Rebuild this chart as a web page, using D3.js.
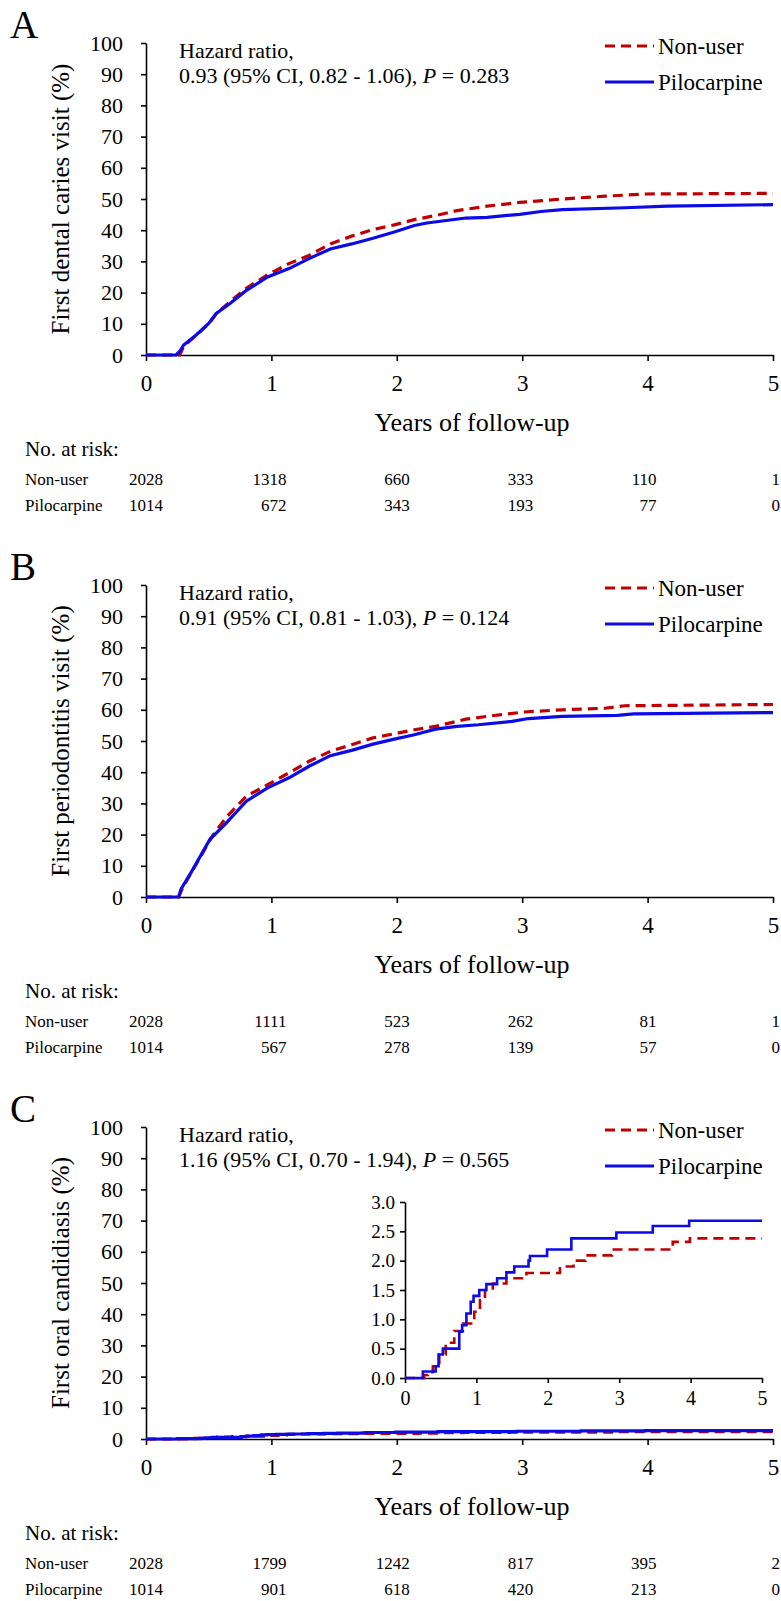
<!DOCTYPE html>
<html>
<head>
<meta charset="utf-8">
<script src="https://cdn.jsdelivr.net/npm/d3@7"></script>
<style>
  body { margin: 0; background: #fff; }
  svg, svg text { font-family: "Liberation Serif", "Tinos", "Times New Roman", "DejaVu Serif", serif; }
</style>
</head>
<body>
<div id="chart"></div>
<script>
let wSvg = 781; let hSvg = 1601;

let nonUserColor = "#C00000";
let piloColor = "#0B0BE8";
let serifFont = '"Liberation Serif", "Tinos", "Times New Roman", "DejaVu Serif", serif';

// data
const years = [0, 1, 2, 3, 4, 5];
const groups = ["Non-user", "Pilocarpine"];
const panelLetters = ["A", "B", "C"];
const yTitles = ["First dental caries visit (%)", "First periodontitis visit (%)", "First oral candidiasis (%)"];
const hrValues = ["0.93 (95% CI, 0.82 - 1.06), ", "0.91 (95% CI, 0.81 - 1.03), ", "1.16 (95% CI, 0.70 - 1.94), "];
const pValues = ["0.283", "0.124", "0.565"];

const riskNonUser = [
    [2028, 1318, 660, 333, 110, 1],
    [2028, 1111, 523, 262, 81, 1],
    [2028, 1799, 1242, 817, 395, 2]
];
const riskPilo = [
    [1014, 672, 343, 193, 77, 0],
    [1014, 567, 278, 139, 57, 0],
    [1014, 901, 618, 420, 213, 0]
];

// [years, cumulative %]
const cariesNonUser = [[0,0],[0.27,0],[0.30,2.8],[0.40,6.3],[0.50,10.0],[0.56,13.2],[0.70,18.1],[0.80,21.4],[0.97,25.7],
    [1.14,29.3],[1.30,31.9],[1.47,35.6],[1.64,38.1],[1.81,40.2],[1.98,41.7],[2.14,43.4],[2.31,44.7],[2.48,46.3],
    [2.72,47.7],[2.98,48.9],[3.32,50.0],[3.66,50.9],[3.99,51.6],[5.0,51.8]];
const cariesPilo = [[0,0],[0.24,0],[0.27,1.2],[0.30,3.2],[0.40,6.4],[0.50,10.1],[0.56,13.3],[0.67,16.5],[0.80,20.7],
    [0.97,25.0],[1.14,27.7],[1.30,30.9],[1.47,34.0],[1.64,35.6],[1.81,37.4],[1.98,39.4],[2.14,41.5],[2.24,42.3],
    [2.55,43.9],[2.72,44.1],[2.98,45.1],[3.15,46.0],[3.32,46.6],[3.82,47.2],[4.16,47.7],[5.0,48.2]];

const perioNonUser = [[0,0],[0.26,0],[0.30,3.6],[0.40,10.5],[0.53,19.6],[0.65,26.0],[0.80,32.3],[0.97,36.0],[1.14,39.8],
    [1.30,43.5],[1.47,46.7],[1.64,48.8],[1.81,51.0],[1.98,52.3],[2.14,53.6],[2.31,54.7],[2.55,57.0],[2.82,58.4],
    [3.02,59.3],[3.32,60.0],[3.66,60.5],[3.82,61.3],[5.0,61.7]];
const perioPilo = [[0,0],[0.26,0],[0.28,2.6],[0.36,7.9],[0.51,18.5],[0.63,23.3],[0.80,30.7],[0.97,35.0],[1.14,38.2],
    [1.30,41.9],[1.47,45.3],[1.64,47.0],[1.81,49.0],[1.98,50.6],[2.14,52.0],[2.31,53.8],[2.48,54.7],[2.65,55.2],
    [2.92,56.3],[3.05,57.2],[3.32,57.9],[3.76,58.2],[3.89,58.7],[5.0,59.1]];

const candNonUser = [[0,0],[0.27,0.05],[0.32,0.1],[0.39,0.2],[0.48,0.4],[0.57,0.6],[0.69,0.8],[0.81,0.93],[0.97,1.13],
    [1.05,1.33],[1.12,1.5],[1.23,1.61],[1.42,1.7],[1.70,1.79],[2.17,1.9],[2.36,2.0],[2.53,2.09],[2.90,2.19],
    [3.75,2.32],[3.99,2.38],[5.0,2.38]];
const candPilo = [[0,0],[0.25,0.11],[0.43,0.2],[0.47,0.4],[0.53,0.5],[0.76,0.79],[0.80,0.9],[0.86,1.1],[0.92,1.3],
    [0.96,1.4],[1.04,1.5],[1.14,1.6],[1.29,1.7],[1.42,1.8],[1.53,1.9],[1.73,2.0],[1.75,2.08],[1.99,2.19],
    [2.33,2.38],[2.96,2.48],[3.47,2.59],[3.98,2.68],[5.0,2.68]];

const insetTicks = [0, 0.5, 1.0, 1.5, 2.0, 2.5, 3.0];

const panelSeries = [
    [cariesNonUser, cariesPilo],
    [perioNonUser, perioPilo],
    [candNonUser, candPilo]
];

let svg = d3.select("#chart")
    .append("svg")
    .attr("width", wSvg)
    .attr("height", hSvg)
    .style("font-family", serifFont);

const panelTop = [0, 542, 1084];

const xScale = d3.scaleLinear().domain([0, 5]).range([146, 773]);
const yScale = d3.scaleLinear().domain([0, 100]).range([355, 43]);
const tableX = d3.scaleLinear().domain([0, 5]).range([163, 780]);

function styleSeries(path, i) {
    path.attr("fill", "none")
        .attr("stroke", i === 0 ? nonUserColor : piloColor)
        .attr("stroke-width", 3.2)
        .attr("stroke-dasharray", i === 0 ? "10,6" : null);
}

function styleAxis(a, size) {
    a.attr("font-family", null).attr("font-size", null)
        .style("font-family", serifFont)
        .style("font-size", size);
    a.selectAll("path, line").attr("stroke", "#000").attr("stroke-width", 1.6);
    a.selectAll("text").attr("fill", "#000");
}

panelLetters.forEach((letter, p) => {
    const g = svg.append("g").attr("transform", `translate(0, ${panelTop[p]})`);

    g.append("text")
        .attr("x", 10).attr("y", 38)
        .style("font-size", "39px")
        .text(letter);

    // axes
    const axisLeft = d3.axisLeft(yScale).tickValues(d3.range(0, 101, 10))
        .tickSize(5).tickSizeOuter(0).tickPadding(18);
    g.append("g")
        .attr("transform", `translate(${xScale(0)}, 0)`)
        .call(axisLeft)
        .call(styleAxis, "22px");

    const axisBottom = d3.axisBottom(xScale).tickValues(years)
        .tickFormat(d3.format("d"))
        .tickSize(6).tickSizeOuter(0).tickPadding(14);
    g.append("g")
        .attr("transform", `translate(0, ${yScale(0)})`)
        .call(axisBottom)
        .call(styleAxis, "23px");

    g.append("text")
        .attr("transform", `translate(69, ${(yScale(0) + yScale(100)) / 2}) rotate(-90)`)
        .attr("text-anchor", "middle")
        .style("font-size", "25px")
        .text(yTitles[p]);

    g.append("text")
        .attr("x", 472).attr("y", 431)
        .attr("text-anchor", "middle")
        .style("font-size", "26px")
        .text("Years of follow-up");

    // hazard ratio
    g.append("text").attr("x", 179).attr("y", 58)
        .style("font-size", "22px").text("Hazard ratio,");
    const hr = g.append("text").attr("x", 179).attr("y", 83).style("font-size", "22px");
    hr.append("tspan").text(hrValues[p]);
    hr.append("tspan").style("font-style", "italic").text("P");
    hr.append("tspan").text(" = " + pValues[p]);

    // legend
    groups.forEach((name, i) => {
        const ly = 46 + i * 36;
        g.append("line")
            .attr("x1", 605).attr("x2", 654)
            .attr("y1", ly).attr("y2", ly)
            .call(styleSeries, i);
        g.append("text")
            .attr("x", 658).attr("y", ly + 8)
            .style("font-size", "23px")
            .text(name);
    });

    // curves
    const line = d3.line()
        .x(d => xScale(d[0]))
        .y(d => yScale(d[1]))
        .curve(p === 2 ? d3.curveStepAfter : d3.curveLinear);

    panelSeries[p].forEach((series, i) => {
        g.append("path")
            .datum(series)
            .attr("d", line)
            .call(styleSeries, i);
    });

    // number at risk
    g.append("text").attr("x", 25).attr("y", 456)
        .style("font-size", "21px").text("No. at risk:");
    [riskNonUser[p], riskPilo[p]].forEach((row, i) => {
        const ry = 485 + i * 26;
        g.append("text").attr("x", 25).attr("y", ry)
            .style("font-size", "17px").text(groups[i]);
        g.selectAll(null)
            .data(row)
            .enter()
            .append("text")
            .attr("x", (d, k) => tableX(years[k]))
            .attr("y", ry)
            .attr("text-anchor", "end")
            .style("font-size", "17px")
            .text(d => d);
    });

    // inset for panel C
    if (p === 2) {
        const ix = d3.scaleLinear().domain([0, 5]).range([405, 762]);
        const iy = d3.scaleLinear().domain([0, 3]).range([294, 118]);
        g.append("g")
            .attr("transform", `translate(${ix(0)}, 0)`)
            .call(d3.axisLeft(iy).tickValues(insetTicks).tickFormat(d3.format(".1f"))
                .tickSize(5).tickSizeOuter(0).tickPadding(5))
            .call(styleAxis, "19px");
        g.append("g")
            .attr("transform", `translate(0, ${iy(0)})`)
            .call(d3.axisBottom(ix).tickValues(years).tickFormat(d3.format("d"))
                .tickSize(5).tickSizeOuter(0).tickPadding(8))
            .call(styleAxis, "20px");
        const insetLine = d3.line()
            .x(d => ix(d[0]))
            .y(d => iy(d[1]))
            .curve(d3.curveStepAfter);
        panelSeries[p].forEach((series, i) => {
            g.append("path")
                .datum(series)
                .attr("d", insetLine)
                .call(styleSeries, i)
                .attr("stroke-width", 2.6);
        });
    }
});
</script>
</body>
</html>
